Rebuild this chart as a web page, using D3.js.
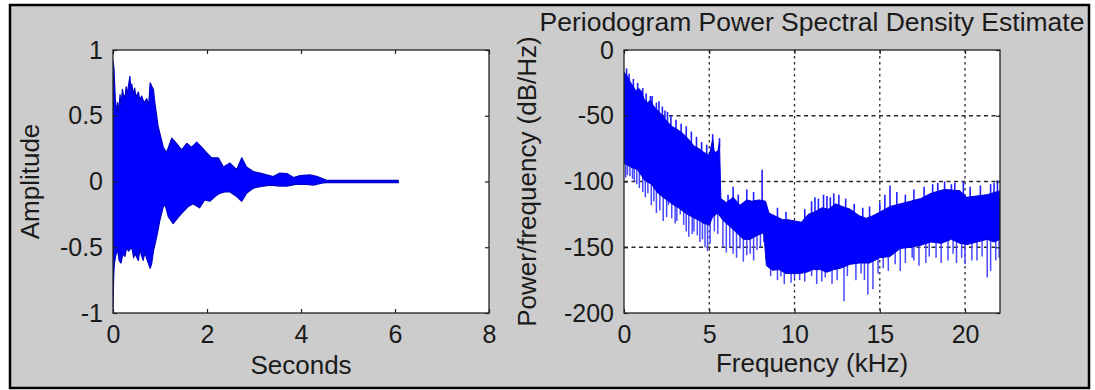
<!DOCTYPE html>
<html>
<head>
<meta charset="utf-8">
<script src="https://cdn.jsdelivr.net/npm/d3@7"></script>
<style>
  body { margin: 0; background: #fff; }
  svg { display: block; }
  text { font-family: "Liberation Sans", Arial, sans-serif; fill: #1a1a1a; }
</style>
</head>
<body>
<svg id="chart" width="1095" height="390"></svg>
<script>
const WIDTH = 1095
const HEIGHT = 390

// Waveform envelope: [seconds, amplitude]
const waveUpper = [
  [0, 0.92], [0.02, 0.86], [0.05, 0.62], [0.08, 0.53], [0.10, 0.60], [0.12, 0.52], [0.15, 0.66],
  [0.17, 0.58], [0.20, 0.70], [0.22, 0.66], [0.255, 0.64], [0.28, 0.72], [0.30, 0.66], [0.36, 0.80],
  [0.38, 0.70], [0.40, 0.74], [0.43, 0.66], [0.46, 0.71], [0.49, 0.64], [0.54, 0.68], [0.57, 0.62],
  [0.61, 0.65], [0.66, 0.60], [0.72, 0.63], [0.76, 0.58], [0.79, 0.75], [0.83, 0.72], [0.86, 0.70],
  [0.89, 0.60], [0.96, 0.42], [1.07, 0.26], [1.14, 0.22], [1.25, 0.33], [1.35, 0.29], [1.46, 0.24],
  [1.57, 0.29], [1.67, 0.26], [1.78, 0.30], [1.89, 0.26], [1.99, 0.22], [2.10, 0.18], [2.24, 0.18],
  [2.35, 0.11], [2.49, 0.14], [2.63, 0.09], [2.74, 0.18], [2.84, 0.11], [2.99, 0.075], [3.13, 0.064],
  [3.27, 0.05], [3.41, 0.037], [3.55, 0.064], [3.70, 0.06], [3.84, 0.03], [3.98, 0.045], [4.19, 0.05],
  [4.33, 0.04], [4.47, 0.02], [4.55, 0.008], [6.07, 0.008]
]
const waveLower = [
  [0, -0.96], [0.015, -0.72], [0.03, -0.62], [0.06, -0.56], [0.10, -0.52], [0.13, -0.60], [0.17, -0.62],
  [0.21, -0.55], [0.255, -0.57], [0.29, -0.50], [0.33, -0.53], [0.40, -0.50], [0.44, -0.58], [0.47, -0.55],
  [0.54, -0.60], [0.57, -0.52], [0.64, -0.60], [0.68, -0.54], [0.72, -0.59], [0.79, -0.66], [0.82, -0.63],
  [0.86, -0.53], [0.93, -0.42], [1.00, -0.29], [1.07, -0.19], [1.11, -0.18], [1.18, -0.27], [1.28, -0.32],
  [1.39, -0.27], [1.49, -0.23], [1.60, -0.19], [1.70, -0.17], [1.84, -0.20], [1.95, -0.14], [2.06, -0.15],
  [2.17, -0.115], [2.27, -0.09], [2.38, -0.08], [2.49, -0.08], [2.63, -0.115], [2.74, -0.15], [2.84, -0.09],
  [2.99, -0.05], [3.13, -0.04], [3.35, -0.027], [3.55, -0.035], [3.70, -0.035], [3.91, -0.02],
  [4.12, -0.022], [4.26, -0.027], [4.47, -0.01], [4.55, -0.008], [6.07, -0.008]
]
const timeTicks = [0, 2, 4, 6, 8]
const ampTicks = [-1, -0.5, 0, 0.5, 1]

// Periodogram band: [kHz, dB/Hz]
const psdUpper = [
  [0, -17], [0.2, -20], [0.4, -25], [0.7, -31], [0.85, -29], [1.0, -31], [1.2, -38], [1.4, -40],
  [1.55, -38], [1.7, -42], [1.9, -45], [2.2, -49], [2.5, -54], [2.8, -58], [3.2, -61], [3.5, -64],
  [3.8, -68], [4.1, -73], [4.4, -75], [4.7, -78], [5.0, -80], [5.2, -68], [5.3, -78], [5.5, -77],
  [5.6, -70], [5.68, -113], [6.0, -116], [6.4, -112], [6.8, -118], [7.2, -114], [7.5, -115], [7.9, -114],
  [8.3, -115], [8.5, -124], [8.9, -126.5], [9.3, -129], [9.6, -129], [10.0, -130], [10.4, -131],
  [10.8, -125], [11.2, -123], [11.6, -120], [12.0, -121], [12.4, -117], [12.8, -119], [13.25, -121],
  [13.8, -126], [14.2, -128], [14.6, -126], [14.9, -124], [15.6, -119], [16.2, -117], [16.8, -115],
  [17.4, -113], [18.0, -109], [18.8, -106], [19.7, -107], [20.1, -112], [20.7, -111], [21.3, -110],
  [22.05, -107]
]
const psdLower = [
  [0, -86], [0.4, -89], [0.8, -91], [1.2, -99], [1.6, -102], [2.0, -109], [2.4, -113], [2.8, -117],
  [3.2, -120], [3.6, -124], [4.0, -127], [4.4, -129.5], [4.7, -132], [5.0, -133], [5.2, -127], [5.5, -124],
  [5.8, -129.5], [6.2, -134], [6.6, -139], [7.0, -144], [7.4, -144], [7.8, -141], [8.2, -139], [8.35, -164],
  [8.7, -167.5], [9.1, -167], [9.5, -170], [9.9, -170], [10.3, -170], [10.7, -169], [11.1, -167],
  [11.5, -167], [11.9, -169], [12.3, -167], [12.7, -166], [13.25, -163], [13.8, -162], [14.4, -162],
  [15.0, -158], [15.6, -157], [16.2, -151], [16.8, -150], [17.4, -148.5], [18.0, -146], [18.6, -147],
  [19.2, -144], [19.7, -147], [20.1, -148], [20.7, -146], [21.3, -144], [21.7, -146], [22.05, -144]
]
// single bins sticking out below the band
const psdDips = [
  [0.1, -97], [0.2, -95], [0.35, -96], [0.5, -98], [0.6, -100], [0.75, -102], [0.9, -105], [1.1, -108],
  [1.25, -112], [1.4, -109], [1.6, -118], [1.75, -115], [1.9, -124], [2.1, -122], [2.3, -130], [2.5, -127],
  [2.6, -118], [2.8, -128], [3.0, -132], [3.1, -130], [3.3, -125], [3.5, -133], [3.65, -138], [3.8, -142],
  [4.0, -140], [4.1, -138], [4.3, -141], [4.45, -146], [4.6, -144], [4.75, -150], [4.9, -153], [5.05, -147],
  [5.3, -138], [5.5, -140], [5.8, -150], [6.0, -154], [6.2, -150], [6.4, -155], [6.6, -158], [6.8, -151],
  [7.0, -161], [7.2, -156], [7.4, -155], [7.6, -160], [7.8, -152], [8.0, -150], [8.2, -146],
  [8.6, -172], [9.0, -175], [9.2, -172], [9.4, -178], [9.8, -177], [10.0, -174], [10.3, -175], [10.6, -176],
  [11.0, -172], [11.3, -178], [11.6, -176], [11.8, -173], [12.2, -178], [12.5, -175], [12.9, -191],
  [13.1, -172], [13.6, -175], [13.9, -170], [14.1, -175], [14.3, -186], [14.6, -182], [14.9, -170],
  [15.2, -166], [15.5, -168], [15.9, -163], [16.2, -168], [16.5, -162], [16.9, -158], [17.0, -160],
  [17.3, -164], [17.7, -162], [17.9, -157], [18.3, -158], [18.6, -162], [19.0, -160], [19.3, -155],
  [19.5, -162], [19.8, -158], [20.0, -163], [20.4, -160], [20.7, -160], [21.0, -157], [21.3, -173],
  [21.5, -168], [21.8, -160], [22.0, -158]
]
// single bins sticking out above the band
const psdPeaks = [
  [0.15, -14], [0.3, -18], [0.55, -22], [0.8, -25], [1.1, -29], [1.3, -33], [1.55, -35], [1.65, -35],
  [1.9, -40], [2.05, -39], [2.25, -43], [2.4, -46], [2.55, -47], [2.75, -50], [3.05, -53], [3.35, -56],
  [3.65, -58], [3.95, -62], [4.25, -66], [4.55, -70], [4.85, -72], [5.2, -64], [5.6, -67],
  [6.1, -110], [6.4, -104], [6.7, -110], [7.2, -106], [7.6, -108], [8.1, -91],
  [9.0, -120], [9.5, -123], [10.6, -121], [11.0, -115], [11.2, -112], [11.4, -113], [11.7, -110],
  [11.9, -111], [12.1, -112], [12.3, -109], [12.6, -110], [13.0, -113], [13.5, -117], [14.0, -120],
  [14.4, -119], [15.0, -116], [15.3, -110], [15.6, -103], [16.0, -108], [16.5, -110], [17.0, -106],
  [17.6, -104], [18.1, -102], [18.4, -101], [18.8, -100], [19.2, -102], [19.4, -101], [19.9, -100],
  [20.3, -104], [20.9, -103], [21.5, -102], [21.7, -101], [21.9, -99]
]
const freqTicks = [0, 5, 10, 15, 20]
const dbTicks = [-200, -150, -100, -50, 0]
const freqGrid = [5, 10, 15, 20]
const dbGrid = [-150, -100, -50]

const TICK_FONT = 25
const LABEL_FONT = 26
const TITLE_FONT = 26.5
const BLUE = "#0000ff"

const svg = d3.select("#chart")

// figure window
svg.append("rect")
  .attr("x", 10).attr("y", 5)
  .attr("width", 1079).attr("height", 383)
  .attr("fill", "#cccccc")
  .attr("stroke", "#000")
  .attr("stroke-width", 2.5)

const makeAxes = (id, box, xDomain, yDomain) => {
  const x = d3.scaleLinear(xDomain, [box.x0, box.x1])
  const y = d3.scaleLinear(yDomain, [box.y1, box.y0])
  const g = svg.append("g")
  g.append("rect")
    .attr("x", box.x0).attr("y", box.y0)
    .attr("width", box.x1 - box.x0).attr("height", box.y1 - box.y0)
    .attr("fill", "#fff")
  svg.append("clipPath").attr("id", id)
    .append("rect")
    .attr("x", box.x0).attr("y", box.y0)
    .attr("width", box.x1 - box.x0).attr("height", box.y1 - box.y0)
  const plot = g.append("g").attr("clip-path", `url(#${id})`)
  return { x, y, g, plot, box }
}

const drawFrame = (ax, xTicks, yTicks) => {
  const { x, y, g, box } = ax
  const fmt = d => String(d)
  const none = () => ""
  const style = sel => sel
    .attr("color", "#222")
    .call(s => s.select(".domain").remove())
    .call(s => s.selectAll("line").attr("stroke-width", 1.2))
    .call(s => s.selectAll("text").attr("font-size", TICK_FONT))

  g.append("g").attr("transform", `translate(0,${box.y1})`)
    .call(d3.axisBottom(x).tickValues(xTicks).tickFormat(fmt).tickSizeInner(-4).tickSizeOuter(0).tickPadding(12))
    .call(style)
  g.append("g").attr("transform", `translate(0,${box.y0})`)
    .call(d3.axisTop(x).tickValues(xTicks).tickFormat(none).tickSizeInner(-4).tickSizeOuter(0))
    .call(style)
  g.append("g").attr("transform", `translate(${box.x0},0)`)
    .call(d3.axisLeft(y).tickValues(yTicks).tickFormat(fmt).tickSizeInner(-4).tickSizeOuter(0).tickPadding(10))
    .call(style)
  g.append("g").attr("transform", `translate(${box.x1},0)`)
    .call(d3.axisRight(y).tickValues(yTicks).tickFormat(none).tickSizeInner(-4).tickSizeOuter(0))
    .call(style)

  g.append("rect")
    .attr("x", box.x0).attr("y", box.y0)
    .attr("width", box.x1 - box.x0).attr("height", box.y1 - box.y0)
    .attr("fill", "none")
    .attr("stroke", "#222")
    .attr("stroke-width", 1.3)
}

const bandPath = (ax, upper, lower) => {
  const line = d3.line().x(d => ax.x(d[0])).y(d => ax.y(d[1]))
  return line(upper.concat(lower.slice().reverse())) + "Z"
}

// ---- left: waveform
const wave = makeAxes("clip-wave", { x0: 113, x1: 489, y0: 50, y1: 313 }, [0, 8], [-1, 1])

wave.plot.append("path")
  .attr("d", bandPath(wave, waveUpper, waveLower))
  .attr("fill", BLUE)
  .attr("stroke", "#0000c8")
  .attr("stroke-width", 1.2)
  .attr("stroke-linejoin", "round")

drawFrame(wave, timeTicks, ampTicks)

// ---- right: periodogram
const psd = makeAxes("clip-psd", { x0: 624, x1: 1000, y0: 50, y1: 313 }, [0, 22.05], [-200, 0])

psd.plot.append("g")
  .attr("stroke", "#2a2a2a")
  .attr("stroke-width", 1.3)
  .call(g => g.selectAll("line.v")
    .data(freqGrid)
    .join("line")
      .attr("class", "v")
      .attr("x1", d => psd.x(d)).attr("x2", d => psd.x(d))
      .attr("y1", psd.box.y0).attr("y2", psd.box.y1)
      .attr("stroke-dasharray", "2.5,3.5"))
  .call(g => g.selectAll("line.h")
    .data(dbGrid)
    .join("line")
      .attr("class", "h")
      .attr("x1", psd.box.x0).attr("x2", psd.box.x1)
      .attr("y1", d => psd.y(d)).attr("y2", d => psd.y(d))
      .attr("stroke-dasharray", "4,3.5"))

// band edges as piecewise scales, so the single bins start on the band
const lowerAt = d3.scaleLinear(psdLower.map(d => d[0]), psdLower.map(d => d[1]))
const upperAt = d3.scaleLinear(psdUpper.map(d => d[0]), psdUpper.map(d => d[1]))

psd.plot.append("g")
  .attr("stroke", "#4747ff")
  .attr("stroke-width", 1.5)
  .selectAll("line")
  .data(psdDips)
  .join("line")
    .attr("x1", d => psd.x(d[0])).attr("x2", d => psd.x(d[0]))
    .attr("y1", d => psd.y(lowerAt(d[0]) + 4)).attr("y2", d => psd.y(d[1]))

psd.plot.append("g")
  .attr("stroke", "#2020ff")
  .attr("stroke-width", 1.6)
  .selectAll("line")
  .data(psdPeaks)
  .join("line")
    .attr("x1", d => psd.x(d[0])).attr("x2", d => psd.x(d[0]))
    .attr("y1", d => psd.y(upperAt(d[0]) - 4)).attr("y2", d => psd.y(d[1]))

psd.plot.append("path")
  .attr("d", bandPath(psd, psdUpper, psdLower))
  .attr("fill", BLUE)
  .attr("stroke", "#0000e0")
  .attr("stroke-width", 1)
  .attr("stroke-linejoin", "round")

drawFrame(psd, freqTicks, dbTicks)

// ---- labels
const mid = r => (r[0] + r[1]) / 2

svg.append("text")
  .attr("x", mid(wave.x.range())).attr("y", 374)
  .attr("text-anchor", "middle")
  .attr("font-size", LABEL_FONT)
  .text("Seconds")

svg.append("text")
  .attr("transform", `translate(30,${mid(wave.y.range())}) rotate(-90)`)
  .attr("dy", "0.35em")
  .attr("text-anchor", "middle")
  .attr("font-size", LABEL_FONT)
  .text("Amplitude")

svg.append("text")
  .attr("x", mid(psd.x.range())).attr("y", 372)
  .attr("text-anchor", "middle")
  .attr("font-size", LABEL_FONT)
  .text("Frequency (kHz)")

svg.append("text")
  .attr("transform", `translate(527,${mid(psd.y.range())}) rotate(-90)`)
  .attr("dy", "0.35em")
  .attr("text-anchor", "middle")
  .attr("font-size", LABEL_FONT)
  .text("Power/frequency (dB/Hz)")

svg.append("text")
  .attr("x", mid(psd.x.range())).attr("y", 31)
  .attr("text-anchor", "middle")
  .attr("font-size", TITLE_FONT)
  .text("Periodogram Power Spectral Density Estimate")
</script>
</body>
</html>
